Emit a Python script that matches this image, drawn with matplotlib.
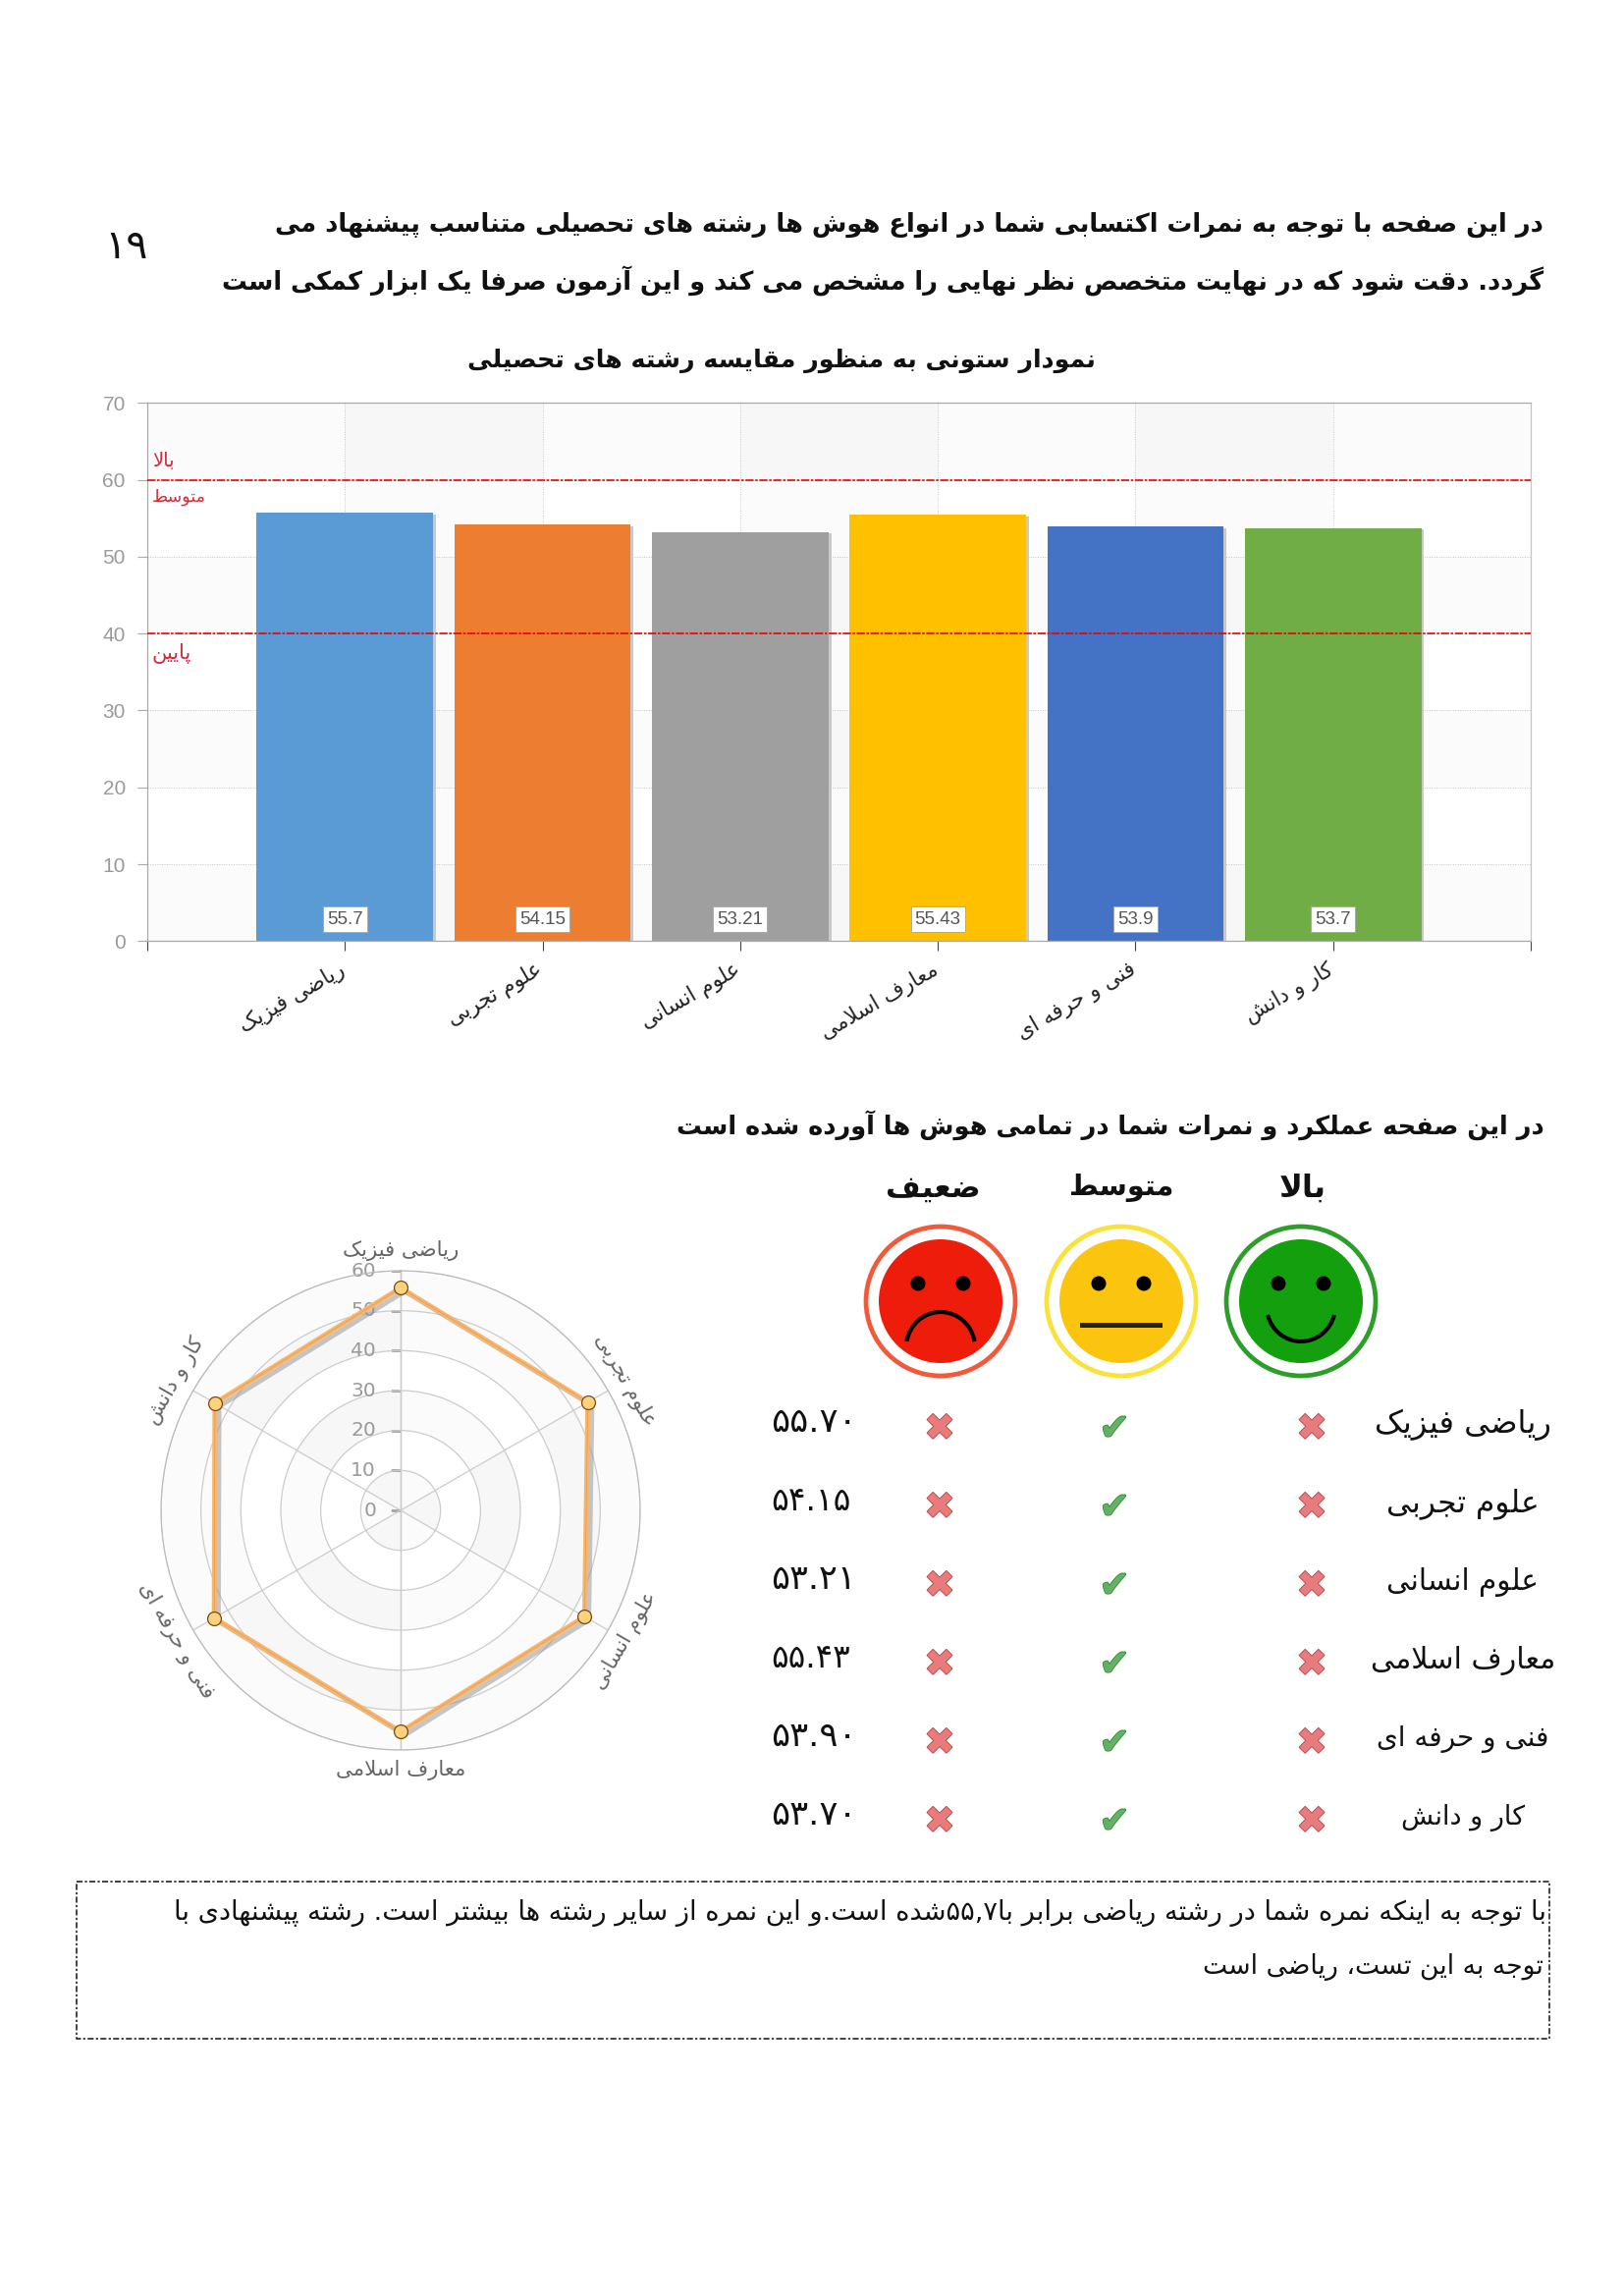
import re
import numpy as np
import matplotlib
matplotlib.use("Agg")
import matplotlib.pyplot as plt
import matplotlib.patheffects as pe
from matplotlib.patches import Circle, Arc, Rectangle
from matplotlib.textpath import TextPath
from matplotlib.font_manager import FontProperties
from matplotlib.transforms import ScaledTranslation

# ---------- data ----------
categories = ["ریاضی فیزیک", "علوم تجربی", "علوم انسانی", "معارف اسلامی", "فنی و حرفه ای", "کار و دانش"]
scores = [55.7, 54.15, 53.21, 55.43, 53.9, 53.7]
score_labels = ["55.7", "54.15", "53.21", "55.43", "53.9", "53.7"]
table_numbers = ["۵۵.۷۰", "۵۴.۱۵", "۵۳.۲۱", "۵۵.۴۳", "۵۳.۹۰", "۵۳.۷۰"]
bar_colors = ["#5B9BD5", "#ED7D31", "#9F9F9F", "#FFC000", "#4472C4", "#70AD47"]
y_ticks = [0, 10, 20, 30, 40, 50, 60, 70]
radar_ticks = [0, 10, 20, 30, 40, 50, 60]
thresholds = [60, 40]
threshold_labels = ["بالا", "متوسط", "پایین"]
level_headers = ["بالا", "متوسط", "ضعیف"]
intro_lines = ["در این صفحه با توجه به نمرات اکتسابی شما در انواع هوش ها رشته های تحصیلی متناسب پیشنهاد می",
               "گردد. دقت شود که در نهایت متخصص نظر نهایی را مشخص می کند و این آزمون صرفا یک ابزار کمکی است"]
page_number = "۱۹"
chart_title = "نمودار ستونی به منظور مقایسه رشته های تحصیلی"
section_title = "در این صفحه عملکرد و نمرات شما در تمامی هوش ها آورده شده است"
note_lines = ["با توجه به اینکه نمره شما در رشته ریاضی برابر با۵۵,۷شده است.و این نمره از سایر رشته ها بیشتر است. رشته پیشنهادی با",
              "توجه به این تست، ریاضی است"]

# ---------- Persian shaping (matplotlib has no complex text layout) ----------
def _f(start, n=4):
    return tuple(chr(start + k) for k in range(n))
FORMS = {"ء": _f(0xFE80, 1), "آ": _f(0xFE81, 2), "أ": _f(0xFE83, 2), "ؤ": _f(0xFE85, 2), "إ": _f(0xFE87, 2),
         "ئ": _f(0xFE89), "ا": _f(0xFE8D, 2), "ب": _f(0xFE8F), "ة": _f(0xFE93, 2), "ت": _f(0xFE95),
         "ث": _f(0xFE99), "ج": _f(0xFE9D), "ح": _f(0xFEA1), "خ": _f(0xFEA5), "د": _f(0xFEA9, 2),
         "ذ": _f(0xFEAB, 2), "ر": _f(0xFEAD, 2), "ز": _f(0xFEAF, 2), "س": _f(0xFEB1), "ش": _f(0xFEB5),
         "ص": _f(0xFEB9), "ض": _f(0xFEBD), "ط": _f(0xFEC1), "ظ": _f(0xFEC5), "ع": _f(0xFEC9),
         "غ": _f(0xFECD), "ف": _f(0xFED1), "ق": _f(0xFED5), "ل": _f(0xFEDD), "م": _f(0xFEE1),
         "ن": _f(0xFEE5), "ه": _f(0xFEE9), "و": _f(0xFEED, 2), "ي": _f(0xFEF1), "پ": _f(0xFB56),
         "چ": _f(0xFB7A), "ژ": _f(0xFB8A, 2), "ک": _f(0xFB8E), "گ": _f(0xFB92), "ی": _f(0xFBFC)}
LAM_ALEF = {"ا": ("\uFEFB", "\uFEFC"), "آ": ("\uFEF5", "\uFEF6"), "أ": ("\uFEF7", "\uFEF8"), "إ": ("\uFEF9", "\uFEFA")}

def fa(s):
    out, i, prev = [], 0, False
    while i < len(s):
        c = s[i]
        nxt = s[i + 1] if i + 1 < len(s) else ""
        if c == "ل" and nxt in LAM_ALEF and nxt:
            out.append(LAM_ALEF[nxt][1 if prev else 0])
            prev, i = False, i + 2
            continue
        if c in FORMS:
            fm = FORMS[c]
            joins_next = len(fm) == 4 and nxt in FORMS
            if len(fm) == 1:
                out.append(fm[0])
            elif prev and joins_next:
                out.append(fm[3])
            elif prev:
                out.append(fm[1])
            elif joins_next:
                out.append(fm[2])
            else:
                out.append(fm[0])
            prev = joins_next
        else:
            out.append(c)
            prev = False
        i += 1
    rev = "".join(out)[::-1]
    return re.sub(r"[0-9۰-۹]+(?:[.,][0-9۰-۹]+)*", lambda m: m.group(0)[::-1], rev)

# ---------- page ----------
W, H, DPI = 1654, 2338, 100
fig = plt.figure(figsize=(W / DPI, H / DPI), dpi=DPI, facecolor="white")
page = fig.add_axes([0, 0, 1, 1], zorder=5)
page.set_xlim(0, W)
page.set_ylim(H, 0)
page.axis("off")

def fit(s, width, weight="normal"):
    fp = FontProperties(family="DejaVu Sans", weight=weight)
    tp = TextPath((0, 0), s, size=100, prop=fp)
    ext = tp.get_extents()
    return 100 * width / ext.width * 72 / DPI

def put(s, x, y, width, ha="right", weight="normal", color="black", **kw):
    t = fa(s)
    return page.text(x, y, t, ha=ha, va="center", family="DejaVu Sans", weight=weight, color=color,
                     fontsize=fit(t, width, weight), **kw)

put(intro_lines[0], 1572, 229, 1288, weight="bold", color="#111111")
put(intro_lines[1], 1572, 286, 1346, weight="bold", color="#111111")
put(page_number, 129, 252, 37, ha="center", color="#111111")
put(chart_title, 796, 367, 636, ha="center", weight="bold", color="#111111")
put(section_title, 1573, 1146, 882, weight="bold", color="#111111")

# ---------- bar chart ----------
ax = fig.add_axes([150 / W, (H - 958.3) / H, 1409 / W, 548 / H], zorder=2)
x_pos = np.arange(1, len(scores) + 1)
ax.set_xlim(0, 7)
ax.set_ylim(0, 70)
for k in range(0, 70, 20):
    ax.axhspan(k, k + 10, color="black", alpha=0.014, lw=0, zorder=0)
for k in range(1, 7, 2):
    ax.axvspan(k, k + 1, color="black", alpha=0.014, lw=0, zorder=0)
ax.grid(True, color="#c8c8c8", lw=0.7, ls=(0, (1, 1.5)), zorder=1)
ax.set_axisbelow(True)
bars = ax.bar(x_pos, scores, width=0.893, color=bar_colors, zorder=2)
for b in bars:
    b.set_path_effects([pe.SimplePatchShadow(offset=(2, -1), shadow_rgbFace="#c4c4c4", alpha=0.9), pe.Normal()])
for xv, lab in zip(x_pos, score_labels):
    ax.annotate(lab, xy=(xv, 0), xytext=(0, 16), textcoords="offset points", ha="center", va="center",
                fontsize=13.5, family="Liberation Sans", color="#555555", zorder=4,
                bbox=dict(boxstyle="square,pad=0.22", fc="white", ec="#aaaaaa", lw=0.7))
for v in thresholds:
    ax.axhline(v, color="#ee0000", lw=1.2, ls=(0, (5, 1, 1.5, 1)), zorder=3)
for name, side in ax.spines.items():
    side.set_color("#aaaaaa" if name in ("left", "bottom", "top") else "#c4c4c4")
    side.set_linewidth(0.9)
ax.set_yticks(y_ticks)
ax.tick_params(axis="y", length=7, color="#aaaaaa", labelcolor="#9a9a9a", labelsize=15, pad=9)
for lab in ax.get_yticklabels():
    lab.set_family("Liberation Sans")
ax.set_xticks(np.arange(0, 8))
xt_size = fit(fa(categories[0]), 118)
ax.set_xticklabels([""] + [fa(c) for c in categories] + [""], rotation=30, ha="right", va="top",
                   rotation_mode="anchor", family="DejaVu Sans", fontsize=xt_size, color="#222222")
ax.tick_params(axis="x", length=7, color="#444444", pad=6)
shift = ScaledTranslation(-7 / DPI, 0, fig.dpi_scale_trans)
for lab in ax.get_xticklabels():
    lab.set_transform(lab.get_transform() + shift)

for s, yy, wd in zip(threshold_labels, [469, 506, 665], [20, 52, 38]):
    put(s, 155, yy, wd, ha="left", color="#d8283c")

# ---------- radar ----------
R_px = 244
rad = fig.add_axes([(408 - R_px) / W, (H - 1538 - R_px) / H, 2 * R_px / W, 2 * R_px / H],
                   projection="polar", zorder=2)
rad.set_theta_zero_location("N")
rad.set_theta_direction(-1)
rad.set_ylim(0, 60)
angles = np.arange(len(scores)) * 2 * np.pi / len(scores)
for k in (0, 20, 40, 50):
    rad.bar(np.pi, 10, width=2 * np.pi, bottom=k, color="black", alpha=0.016, lw=0, zorder=0)
for i in range(3):
    for k in (0, 20, 40):
        rad.bar(np.pi / 3 * (2 * i + 1.5), 10, width=np.pi / 3, bottom=k,
                color="black", alpha=0.014, lw=0, zorder=0)
rad.set_rgrids(radar_ticks[1:], labels=[""] * 6, color="#cccccc")
rad.set_thetagrids(np.degrees(angles), labels=[""] * 6)
rad.grid(True, color="#cccccc", lw=0.9)
rad.spines["polar"].set_color("#bbbbbb")
rad.spines["polar"].set_linewidth(0.9)
rad.plot([0, 0], [0, 60], color="#999999", lw=0.9, zorder=1)
rad.plot([np.pi, np.pi], [0, 60], color="#bbbbbb", lw=0.9, zorder=1)
rad.plot(np.zeros(len(radar_ticks)), radar_ticks, ls="none", marker=0, ms=7, mew=0.8, mec="#aaaaaa", zorder=1)
for v in radar_ticks:
    rad.annotate(str(v), xy=(0, v), xytext=(-18, 0), textcoords="offset points", ha="right", va="center",
                 fontsize=14.5, color="#9a9a9a", family="DejaVu Sans", zorder=2)
a_c = np.append(angles, angles[0])
s_c = np.append(scores, scores[0])
rad.plot(a_c, s_c, color="#F6B670", lw=3.6, zorder=3, solid_joinstyle="round",
         path_effects=[pe.SimpleLineShadow(offset=(3, -2.4), shadow_color="#999999", alpha=0.55), pe.Normal()])
rad.plot(a_c, s_c, color="#EC9A40", lw=0.5, zorder=4)
rad.plot(angles, scores, ls="none", marker="o", ms=10, mfc="#FDD27F", mec="#7a4a10", mew=0.9, zorder=5)
rad_size = fit(fa(categories[0]), 116)
for th, c in zip(angles, categories):
    deg = np.degrees(th)
    rot = {0: 0, 60: -60, 120: 60, 180: 0, 240: -60, 300: 60}[int(round(deg))]
    rad.text(th, 65, fa(c), ha="center", va="center", rotation=rot, rotation_mode="anchor",
             fontsize=rad_size, color="#666666", family="DejaVu Sans", clip_on=False)

# ---------- smiley heads ----------
col_x = [1325, 1142, 958]
face_y = 1325
face_ring = ["#2E9E2A", "#F8E23B", "#F2583A"]
face_fill = ["#14A00E", "#FBC40F", "#EE1C0A"]
for i, (cx, ring, fill) in enumerate(zip(col_x, face_ring, face_fill)):
    page.add_patch(Circle((cx, face_y), 76, fc="white", ec=ring, lw=3.4))
    page.add_patch(Circle((cx, face_y), 63, fc=fill, ec="none"))
    for dx in (-23, 23):
        page.add_patch(Circle((cx + dx, face_y - 18), 7.5, fc="black", ec="none"))
    if i == 0:
        page.add_patch(Arc((cx, face_y + 5), 70, 72, theta1=15, theta2=165, color="black", lw=3))
    elif i == 1:
        page.add_patch(Rectangle((cx - 42, face_y + 22), 84, 5, fc="#222222", ec="none"))
    else:
        page.add_patch(Arc((cx, face_y + 47), 70, 72, theta1=190, theta2=350, color="black", lw=3))
    put(level_headers[i], cx + (2 if i == 0 else 0) - (8 if i == 2 else 0), 1210, [44, 102, 92][i], ha="center",
        weight="bold", color="#111111")

# ---------- table ----------
checks = ["✖", "✔", "✖"]
check_face = ["#E87C7C", "#62B362", "#E87C7C"]
check_edge = ["#B04545", "#3A803A", "#B04545"]
icon_x = [1336, 1135, 957]
row_width = [176, 150, 150, 184, 172, 124]
label_clip = Rectangle((1300, 1400), 278, 500, transform=page.transData)
for r, (c, num) in enumerate(zip(categories, table_numbers)):
    t = put(c, 1490, 1451 + 80 * r, row_width[r], ha="center", color="#111111")
    t.set_clip_path(label_clip)
    put(num, 785, 1448 + 80 * r, 78, ha="left", color="#111111")
    for xi, g, fc, ec in zip(icon_x, checks, check_face, check_edge):
        page.text(xi, 1456 + 80 * r, g, ha="center", va="center", fontsize=27, color=fc,
                  family="DejaVu Sans", path_effects=[pe.withStroke(linewidth=1.2, foreground=ec)])

# ---------- note box ----------
page.add_patch(Rectangle((78, 1916), 1500, 160, fc="none", ec="#111111", lw=1.1, ls=(0, (4, 1.5, 1.5, 1.5))))
put(note_lines[0], 1575, 1948, 1390, color="#111111")
put(note_lines[1], 1572, 2003, 344, color="#111111")

fig.savefig("out.png", dpi=DPI, facecolor="white")
